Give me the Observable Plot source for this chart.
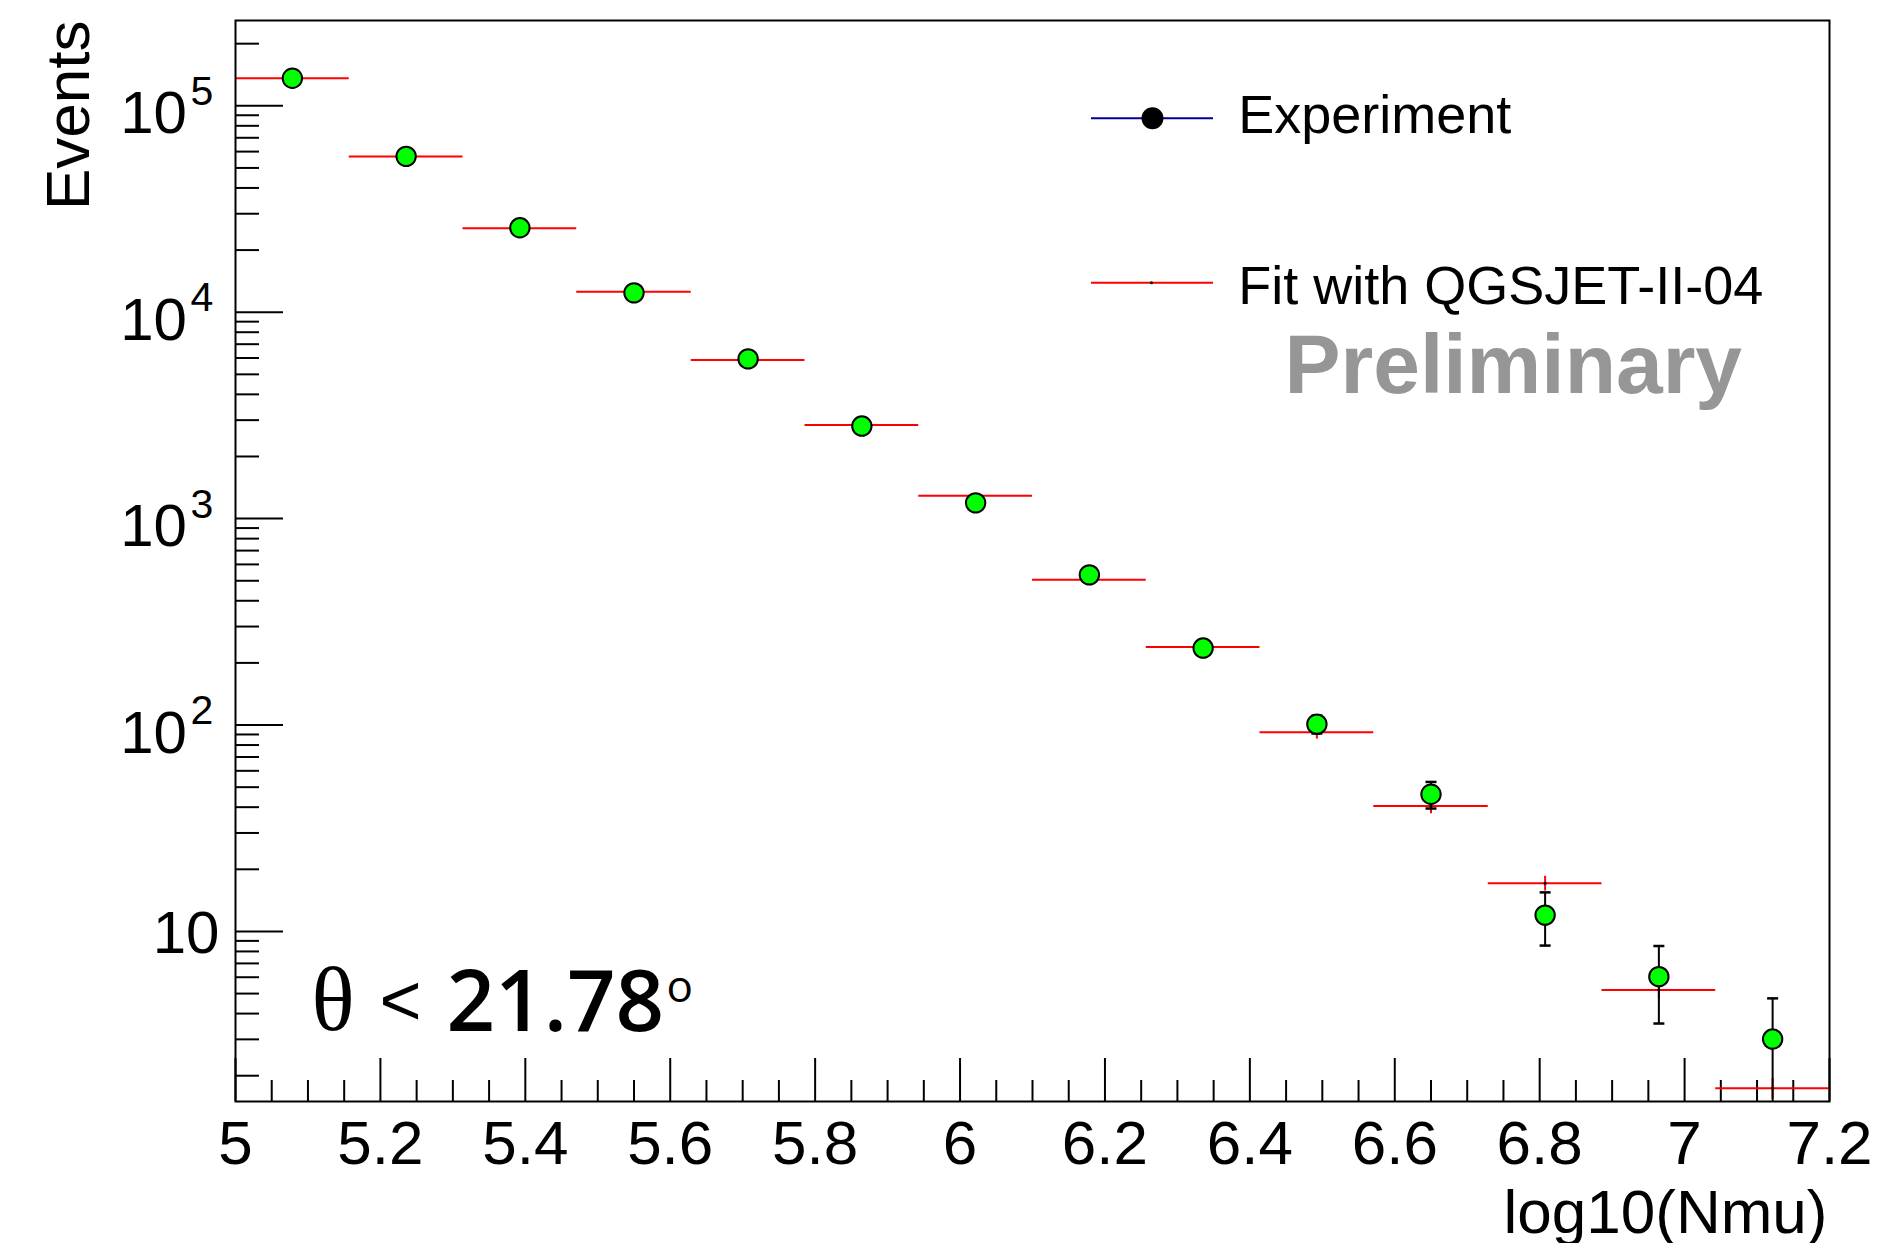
<!DOCTYPE html>
<html><head><meta charset="utf-8">
<script src="https://cdn.jsdelivr.net/npm/d3@7"></script>
<script src="https://cdn.jsdelivr.net/npm/@observablehq/plot@0.6"></script>
<style>html,body{margin:0;padding:0;background:#fff;} svg{display:block}</style>
</head><body><div id="chart"></div>
<script>
// ---- data ----
const binEdges = [5.0, 5.157, 5.314, 5.471, 5.629, 5.786, 5.943, 6.1, 6.257, 6.414, 6.571, 6.729, 6.886, 7.043, 7.2];
const experiment    = [136000, 56900, 25650, 12410, 5940, 2808, 1192, 534, 236, 101, 46.2, 12.0, 6.04, 3.01];
const experimentErr = [369, 239, 160, 111, 77, 53, 34.5, 23.1, 15.4, 10.0, 6.8, 3.46, 2.46, 1.73];
const fitValues     = [136000, 56800, 25500, 12580, 5860, 2845, 1291, 506, 239, 92.2, 40.5, 17.1, 5.21, 1.74];
const fitErr        = [2000, 1100, 600, 300, 140, 70, 32, 13, 6.5, 6.7, 3.3, 1.4, 0.5, 0.2];

const xTickValues = [5, 5.2, 5.4, 5.6, 5.8, 6, 6.2, 6.4, 6.6, 6.8, 7, 7.2];
const xTickLabels = ["5", "5.2", "5.4", "5.6", "5.8", "6", "6.2", "6.4", "6.6", "6.8", "7", "7.2"];
const xMinorTicks = [5.05, 5.1, 5.15, 5.25, 5.3, 5.35, 5.45, 5.5, 5.55, 5.65, 5.7, 5.75, 5.85, 5.9, 5.95,
  6.05, 6.1, 6.15, 6.25, 6.3, 6.35, 6.45, 6.5, 6.55, 6.65, 6.7, 6.75, 6.85, 6.9, 6.95, 7.05, 7.1, 7.15];
const yTickValues = [10, 100, 1000, 10000, 100000];
const yTickBase = ["10", "10", "10", "10", "10"];
const yTickExp = ["", "2", "3", "4", "5"];
const yMinorTicks = [2, 3, 4, 5, 6, 7, 8, 9, 20, 30, 40, 50, 60, 70, 80, 90,
  200, 300, 400, 500, 600, 700, 800, 900, 2000, 3000, 4000, 5000, 6000, 7000, 8000, 9000,
  20000, 30000, 40000, 50000, 60000, 70000, 80000, 90000, 200000];
const legendLabels = ["Experiment", "Fit with QGSJET-II-04"];
const watermark = "Preliminary";
const xTitle = "log10(Nmu)";
const yTitle = "Events";

// ---- layout ----
const W = 1881, H = 1243;
const mL = 235, mR = 52, mT = 20, mB = 142;
const innerW = W - mL - mR, innerH = H - mT - mB;
const yMin = 1.5, yMax = 2.59e5;

const bins = experiment.map((v, i) => ({
  lo: binEdges[i], hi: binEdges[i + 1], x: (binEdges[i] + binEdges[i + 1]) / 2,
  exp: v, expErr: experimentErr[i], fit: fitValues[i], fitErr: fitErr[i]
}));

const capSymbol = {draw(ctx, size) { const w = Math.sqrt(size / Math.PI); ctx.moveTo(-w, 0); ctx.lineTo(w, 0); }};

const sans = "'Liberation Sans', Arimo, Arial, sans-serif";
const powIdx = yTickValues.map((v, i) => i).filter(i => yTickExp[i] !== "");
const plainIdx = yTickValues.map((v, i) => i).filter(i => yTickExp[i] === "");

const chart = Plot.plot({
  width: W, height: H,
  marginLeft: mL, marginRight: mR, marginTop: mT, marginBottom: mB,
  x: {domain: [5, 7.2], label: null},
  y: {type: "log", domain: [yMin, yMax], clamp: true, axis: null},
  style: {fontFamily: sans, color: "black", background: "white", overflow: "visible"},
  marks: [
    // ticks (inward)
    Plot.gridX(xMinorTicks, {stroke: "black", strokeOpacity: 1, strokeWidth: 2, insetTop: innerH - 21}),
    Plot.gridX(xTickValues, {stroke: "black", strokeOpacity: 1, strokeWidth: 2, insetTop: innerH - 43}),
    Plot.gridY(yMinorTicks, {stroke: "black", strokeOpacity: 1, strokeWidth: 2, insetRight: innerW - 24}),
    Plot.gridY(yTickValues, {stroke: "black", strokeOpacity: 1, strokeWidth: 2, insetRight: innerW - 48}),
    Plot.axisX(xTickValues, {tickSize: 0, tickPadding: 18, fontSize: 62, label: null,
      tickFormat: d => xTickLabels[xTickValues.indexOf(d)]}),
    // y tick labels 10^n
    Plot.text(powIdx, {y: i => yTickValues[i], text: i => yTickBase[i], frameAnchor: "left",
      textAnchor: "end", lineAnchor: "bottom", dx: -48.5, dy: 27.5, fontSize: 60}),
    Plot.text(powIdx, {y: i => yTickValues[i], text: i => yTickExp[i], frameAnchor: "left",
      textAnchor: "start", lineAnchor: "bottom", dx: -45, dy: -1, fontSize: 41}),
    Plot.text(plainIdx, {y: i => yTickValues[i], text: i => yTickBase[i], frameAnchor: "left",
      textAnchor: "end", lineAnchor: "bottom", dx: -16, dy: 22, fontSize: 60}),
    // axis titles
    Plot.text([xTitle], {text: d => d, frameAnchor: "bottom-right", textAnchor: "end", lineAnchor: "bottom",
      dx: -2, dy: 131, fontSize: 62}),
    Plot.text([yTitle], {text: d => d, frameAnchor: "top-left", rotate: -90, textAnchor: "end", lineAnchor: "bottom",
      dx: -147, dy: 0, fontSize: 62}),
    // fit histogram
    Plot.ruleY(bins, {x1: "lo", x2: "hi", y: "fit", stroke: "#ff0000", strokeWidth: 2}),
    Plot.ruleX(bins, {x: "x", y1: d => d.fit - d.fitErr, y2: d => d.fit + d.fitErr, stroke: "#ff0000", strokeWidth: 2}),
    Plot.dot(bins, {x: "x", y: "fit", r: 1.5, fill: "black"}),
    // experiment error bars
    Plot.ruleX(bins, {x: "x", y1: d => d.exp - d.expErr, y2: d => d.exp + d.expErr, stroke: "black", strokeWidth: 2}),
    Plot.dot(bins, {x: "x", y: d => d.exp + d.expErr, symbol: capSymbol, r: 5.5, stroke: "black", strokeWidth: 2.5, fill: "none"}),
    Plot.dot(bins.filter(d => d.exp - d.expErr > yMin), {x: "x", y: d => d.exp - d.expErr, symbol: capSymbol, r: 5.5, stroke: "black", strokeWidth: 2.5, fill: "none"}),
    Plot.dot(bins, {x: "x", y: "exp", r: 9.7, fill: "#00ff00", stroke: "black", strokeWidth: 2}),
    // legend
    Plot.ruleY([0], {y: null, insetLeft: 1091 - mL, insetRight: W - mR - 1213, dy: 117.7 - (mT + H - mB) / 2, stroke: "#000099", strokeWidth: 2}),
    Plot.dot([0], {frameAnchor: "top-left", dx: 1152 - mL, dy: 97.7, r: 11, fill: "black"}),
    Plot.ruleY([0], {y: null, insetLeft: 1091 - mL, insetRight: W - mR - 1213, dy: 282.3 - (mT + H - mB) / 2, stroke: "#ff0000", strokeWidth: 2}),
    Plot.dot([0], {frameAnchor: "top-left", dx: 1151 - mL, dy: 262.3, r: 1.5, fill: "black"}),
    Plot.text([legendLabels[0]], {text: d => d, frameAnchor: "top-left", textAnchor: "start", lineAnchor: "bottom",
      dx: 1002.7, dy: 112, fontSize: 54}),
    Plot.text([legendLabels[1]], {text: d => d, frameAnchor: "top-left", textAnchor: "start", lineAnchor: "bottom",
      dx: 1002.7, dy: 283.3, fontSize: 54}),
    Plot.text([watermark], {text: d => d, frameAnchor: "top-left", textAnchor: "start", lineAnchor: "bottom",
      dx: 1049, dy: 372.7, fontSize: 84, fontWeight: "bold", fill: "#969696"}),
    // angle annotation
    Plot.text(["θ"], {text: d => d, frameAnchor: "bottom-left", textAnchor: "start", lineAnchor: "bottom",
      dx: 76, dy: -72, fontSize: 90, fontFamily: "'Liberation Serif', 'DejaVu Serif', serif"}),
    Plot.text(["<"], {text: d => d, frameAnchor: "bottom-left", textAnchor: "start", lineAnchor: "bottom",
      dx: 144, dy: -76.5, fontSize: 72}),
    Plot.text(["21.78"], {text: d => d, frameAnchor: "bottom-left", textAnchor: "start", lineAnchor: "bottom",
      dx: 211, dy: -70.5, fontSize: 85, fontWeight: 600, fontFamily: "'Open Sans', 'Noto Sans', sans-serif"}),
    Plot.text(["o"], {text: d => d, frameAnchor: "bottom-left", textAnchor: "start", lineAnchor: "bottom",
      dx: 431, dy: -100, fontSize: 44, fontFamily: "'Open Sans', 'Noto Sans', sans-serif"}),
    Plot.frame({stroke: "black", strokeWidth: 2})
  ]
});
document.getElementById("chart").appendChild(chart);
</script>
</body></html>
